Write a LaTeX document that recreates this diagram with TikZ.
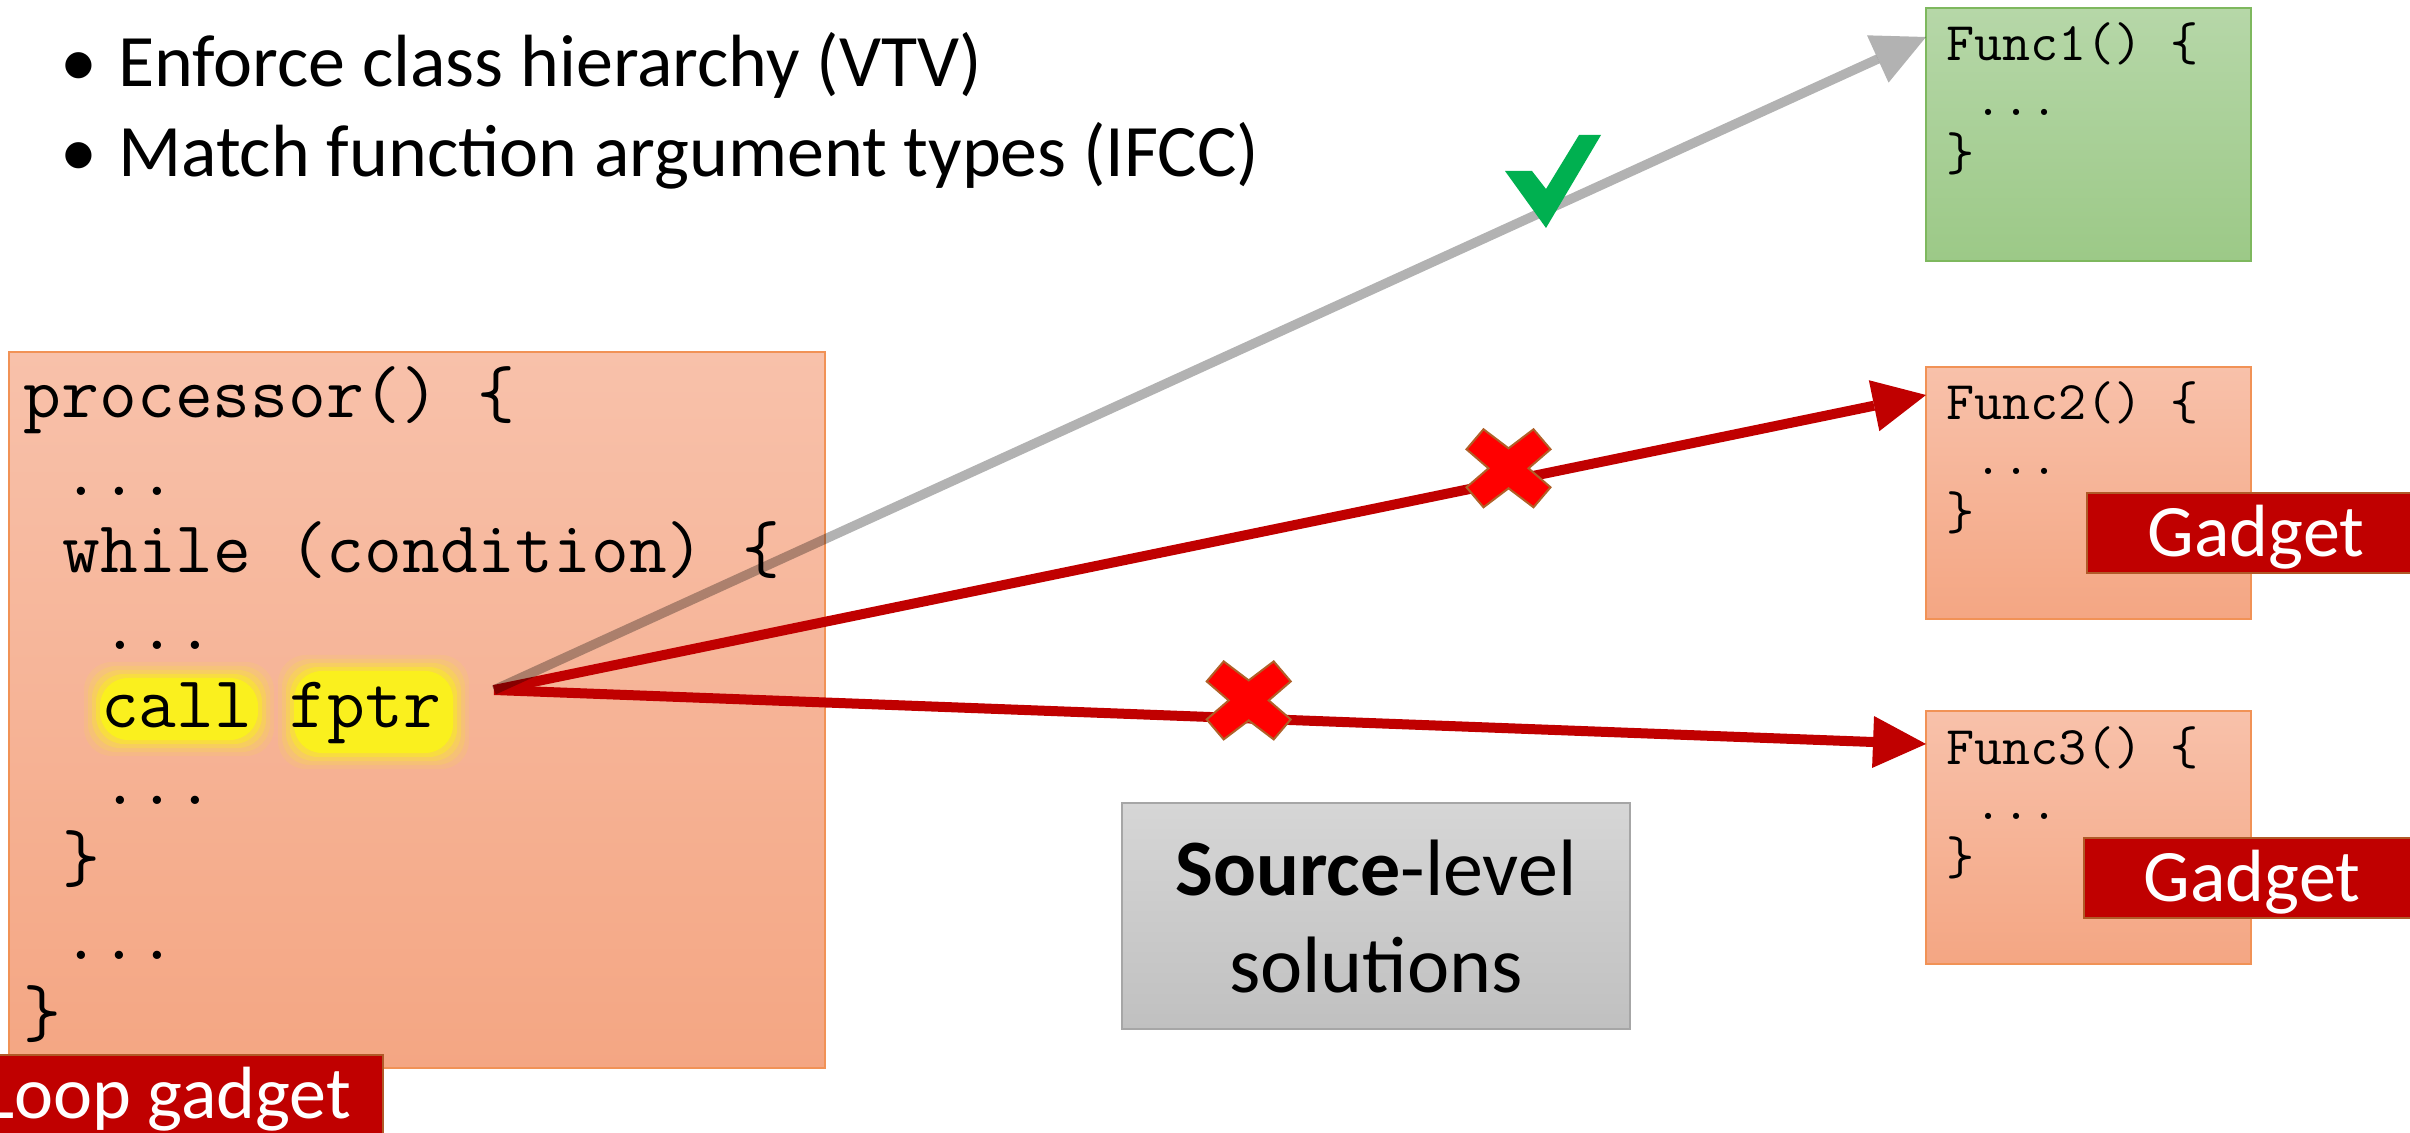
\documentclass[tikz,border=0pt]{standalone}
\usepackage{fontspec}
\setmainfont{Carlito}
\usetikzlibrary{arrows.meta}
\definecolor{boxtop}{RGB}{248,193,170}
\definecolor{boxbot}{RGB}{244,166,131}
\definecolor{boxline}{RGB}{241,146,86}
\definecolor{grtop}{RGB}{182,215,168}
\definecolor{grbot}{RGB}{156,201,135}
\definecolor{grline}{RGB}{126,184,94}
\definecolor{gadred}{RGB}{192,0,0}
\definecolor{gadline}{RGB}{176,90,40}
\definecolor{srctop}{RGB}{214,214,214}
\definecolor{srcbot}{RGB}{192,192,192}
\definecolor{srcline}{RGB}{166,166,166}
\definecolor{chk}{RGB}{0,176,80}
\definecolor{xred}{RGB}{255,0,0}
\definecolor{xline}{RGB}{176,96,40}
\definecolor{glowc}{RGB}{250,240,30}
\begin{document}
\begin{tikzpicture}[x=0.5pt,y=-0.5pt,
  every node/.style={inner sep=0pt, outer sep=0pt},
  salmonbox/.style={rectangle, anchor=north west, draw=boxline, line width=0.8pt, top color=boxtop, bottom color=boxbot},
  greenbox/.style={rectangle, anchor=north west, draw=grline, line width=0.8pt, top color=grtop, bottom color=grbot},
  graybox/.style={rectangle, anchor=north west, draw=srcline, line width=0.8pt, top color=srctop, bottom color=srcbot},
  gadgetlabel/.style={rectangle, fill=gadred, draw=gadline, line width=1pt, text=white, font=\fontsize{37}{44}\selectfont, text height=23.8pt, text depth=0pt},
  codeline/.style={anchor=base west, font=\fontsize{36.67}{40}\ttfamily},
  funcline/.style={anchor=base west, font=\fontsize{27.24}{30}\ttfamily},
  bullettext/.style={anchor=base west, font=\fontsize{37}{44}\selectfont},
  bulletdot/.style={anchor=base, font=\fontsize{37}{44}\selectfont},
  srctext/.style={anchor=base, font=\fontsize{40}{48}\selectfont},
  redarrow/.style={draw=gadred, line width=5pt, -{Triangle[length=26.5pt,width=26pt,line width=0pt]}},
  grayarrow/.style={draw=black, draw opacity=0.3, fill opacity=0.3, line width=4.75pt, -{Triangle[length=26.5pt,width=26pt,line width=0pt,fill=black]}},
  crossmark/.pic={\path[fill=xred, draw=xline, line width=1pt]
     (-25,-39) -- (-42,-19) -- (-20,0) -- (-42,19) -- (-25,39) -- (0,20)
     -- (25,39) -- (42,19) -- (20,0) -- (42,-19) -- (25,-39) -- (0,-20) -- cycle;}
]
\useasboundingbox (0,0) rectangle (2410,1133);
\clip (0,0) rectangle (2410,1133);
\fill[white] (0,0) rectangle (2410,1133);

% bullets
\node[bulletdot] (b1) at (79,87) {•};
\node[bullettext] (l1) at (118,87) {Enforce class hierarchy (VTV)};
\node[bulletdot] (b2) at (79,177) {•};
\node[bullettext] (l2) at (118,177) {Match function argument types (IFCC)};

% main code box
\node[salmonbox, minimum width=408pt, minimum height=358pt] (main) at (9,352) {};

% glow behind call / fptr
\foreach \g/\o in {16/0.1,12/0.16,8/0.26,4/0.45,0/1}{
  \fill[glowc, opacity=\o, rounded corners=14pt] (100-\g,678-\g) rectangle (258+\g,740+\g);
  \fill[glowc, opacity=\o, rounded corners=14pt] (294-\g,671-\g) rectangle (453+\g,753+\g);
}

\node[codeline] (c0) at (24,418) {processor() \{};
\node[codeline] (c1) at (62.5,495.3) {...};
\node[codeline] (c2) at (62.5,572.6) {while (condition) \{};
\node[codeline] (c3) at (101,649.9) {...};
\node[codeline] (c4) at (101,727.2) {call fptr};
\node[codeline] (c5) at (101,804.5) {...};
\node[codeline] (c6) at (62.5,881.8) {\}};
\node[codeline] (c7) at (62.5,959.1) {...};
\node[codeline] (c8) at (24,1036.4) {\}};

% function boxes
\node[greenbox, minimum width=162.5pt, minimum height=126.5pt] (f1) at (1926,8) {};
\node[funcline] (f1a) at (1946,61) {Func1() \{};
\node[funcline] (f1b) at (1974.6,116) {...};
\node[funcline] (f1c) at (1946,171) {\}};

\node[salmonbox, minimum width=162.5pt, minimum height=126pt] (f2) at (1926,367) {};
\node[funcline] (f2a) at (1946,420) {Func2() \{};
\node[funcline] (f2b) at (1974.6,475) {...};
\node[funcline] (f2c) at (1946,530) {\}};

\node[salmonbox, minimum width=162.5pt, minimum height=126.5pt] (f3) at (1926,711) {};
\node[funcline] (f3a) at (1946,764) {Func3() \{};
\node[funcline] (f3b) at (1974.6,819) {...};
\node[funcline] (f3c) at (1946,874) {\}};

% gadget labels
\node[gadgetlabel, minimum width=169pt, minimum height=40pt] (g2) at (2256,533) {Gadget};
\node[gadgetlabel, minimum width=168pt, minimum height=40pt] (g3) at (2252,878) {Gadget};
\node[gadgetlabel, minimum width=216pt, minimum height=40pt] (lg) at (167,1095) {Loop gadget};

% source-level box
\node[graybox, minimum width=254pt, minimum height=113pt] (srcbox) at (1122,803) {};
\node[srctext] (s1) at (1376,895) {\textbf{Source}-level};
\node[srctext] (s2) at (1376,992) {solutions};

% connectors
\coordinate (src) at (494,690);
\coordinate (t1) at (1926,37);
\coordinate (t2) at (1926,395);
\coordinate (t3) at (1926,744);
\draw[redarrow] (src) -- (t2);
\draw[redarrow] (src) -- (t3);
\draw[grayarrow] (src) -- (t1);

% marks
\fill[chk] (1505,171) -- (1532,171) -- (1546,189) -- (1579,135) -- (1601,135) -- (1546,228) -- cycle;
\pic at (1508.5,468.3) {crossmark};
\pic at (1248.7,700.4) {crossmark};
\end{tikzpicture}
\end{document}
